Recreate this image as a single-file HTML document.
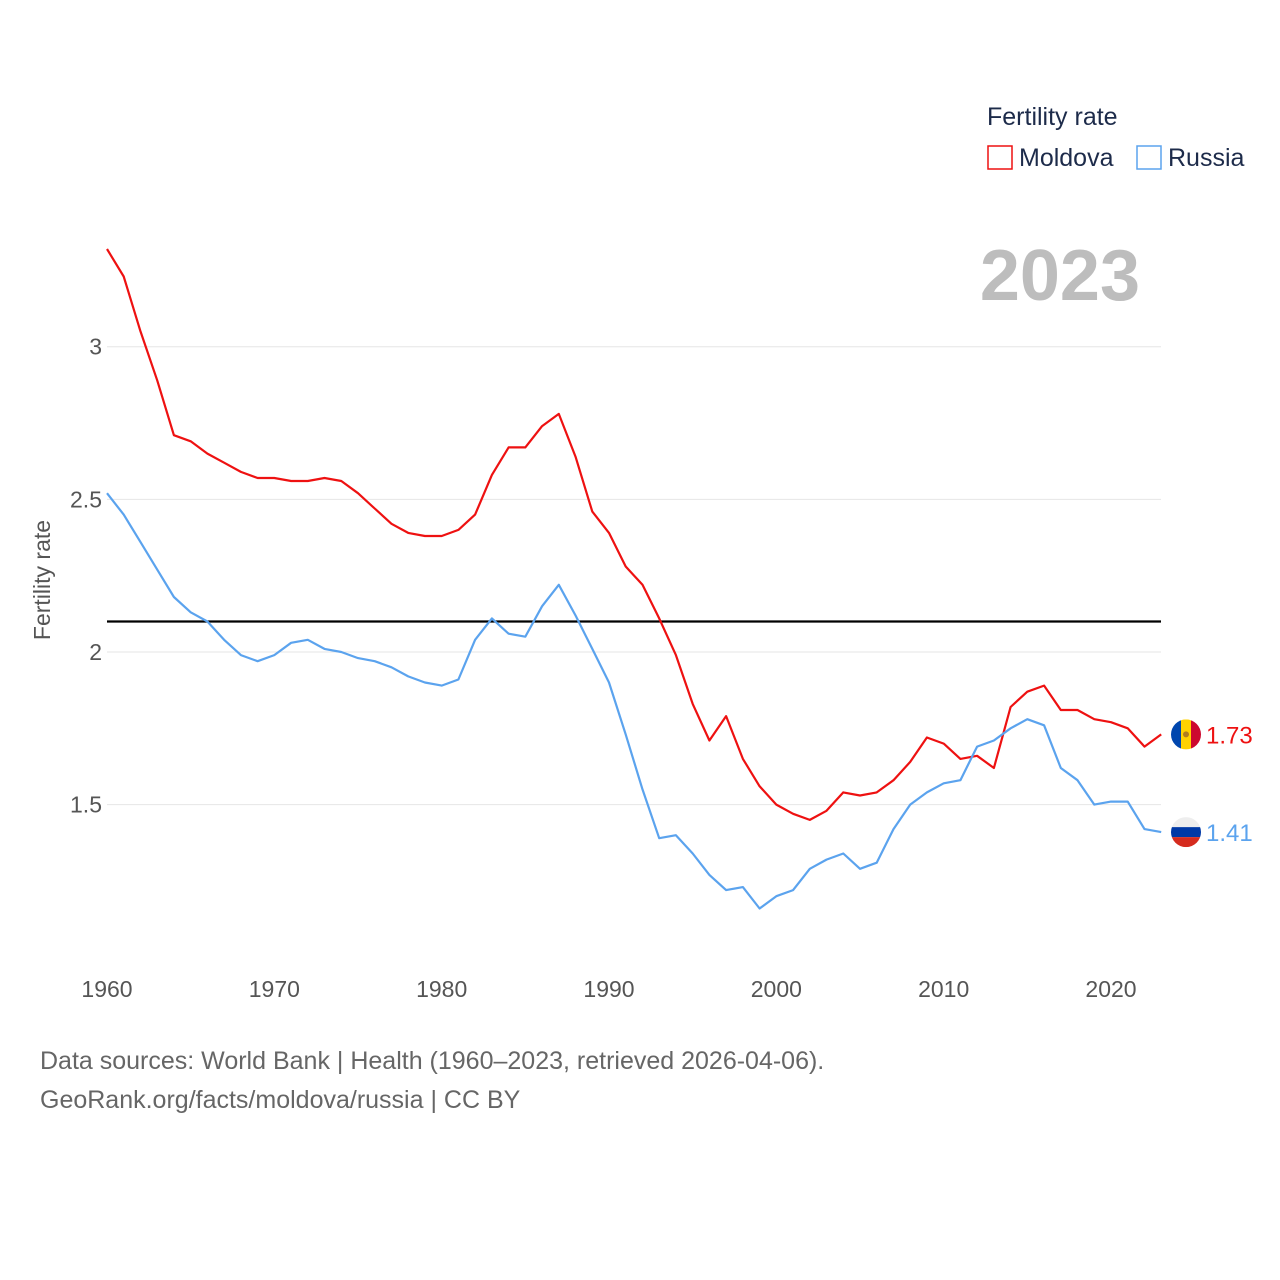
<!DOCTYPE html>
<html><head><meta charset="utf-8">
<style>
html,body{margin:0;padding:0;background:#fff;}
svg{display:block;font-family:"Liberation Sans",sans-serif;}
</style></head>
<body>
<svg id="chart" width="1280" height="1280" viewBox="0 0 1280 1280" xmlns="http://www.w3.org/2000/svg">
  <text x="987" y="125" font-size="25" fill="#1d2b4a">Fertility rate</text>
  <g>
    <rect x="988" y="146" width="24" height="23" fill="none" stroke="#ee1111" stroke-width="1.5"/>
    <text x="1019" y="166" font-size="25" fill="#1d2b4a">Moldova</text>
  </g>
  <g>
    <rect x="1137" y="146" width="24" height="23" fill="none" stroke="#5ba3ee" stroke-width="1.5"/>
    <text x="1168" y="166" font-size="25" fill="#1d2b4a">Russia</text>
  </g>
  <text x="1140" y="300" font-size="72" font-weight="bold" fill="#bdbdbd" text-anchor="end">2023</text>
  <text transform="translate(50,580) rotate(-90)" font-size="23" fill="#555" text-anchor="middle">Fertility rate</text>
  <g id="grid"></g>
  <g id="xt"></g>
  <g id="lines"></g>
  <text x="40" y="1069" font-size="25" fill="#666">Data sources: World Bank | Health (1960–2023, retrieved 2026-04-06).</text>
  <text x="40" y="1108" font-size="25" fill="#666">GeoRank.org/facts/moldova/russia | CC BY</text>
</svg>
<script>
const years = [];
for (let y = 1960; y <= 2023; y++) years.push(y);
const moldova = [3.32,3.23,3.05,2.89,2.71,2.69,2.65,2.62,2.59,2.57,2.57,2.56,2.56,2.57,2.56,2.52,2.47,2.42,2.39,2.38,2.38,2.40,2.45,2.58,2.67,2.67,2.74,2.78,2.64,2.46,2.39,2.28,2.22,2.11,1.99,1.83,1.71,1.79,1.65,1.56,1.50,1.47,1.45,1.48,1.54,1.53,1.54,1.58,1.64,1.72,1.70,1.65,1.66,1.62,1.82,1.87,1.89,1.81,1.81,1.78,1.77,1.75,1.69,1.73];
const russia = [2.52,2.45,2.36,2.27,2.18,2.13,2.10,2.04,1.99,1.97,1.99,2.03,2.04,2.01,2.00,1.98,1.97,1.95,1.92,1.90,1.89,1.91,2.04,2.11,2.06,2.05,2.15,2.22,2.12,2.01,1.90,1.73,1.55,1.39,1.40,1.34,1.27,1.22,1.23,1.16,1.20,1.22,1.29,1.32,1.34,1.29,1.31,1.42,1.50,1.54,1.57,1.58,1.69,1.71,1.75,1.78,1.76,1.62,1.58,1.50,1.51,1.51,1.42,1.41];
const yTicks = [1.5, 2, 2.5, 3];
const yTickLabels = ["1.5", "2", "2.5", "3"];
const xTicks = [1960, 1970, 1980, 1990, 2000, 2010, 2020];
const refValue = [2.1];

const NS = "http://www.w3.org/2000/svg";
const X = yr => 107 + (yr - 1960) * (1004 / 60);
const Y = v => 652 - (v - 2) * 305.3;
function mk(tag, attrs, parent){ const e=document.createElementNS(NS,tag); for(const k in attrs) e.setAttribute(k,attrs[k]); parent.appendChild(e); return e; }

const grid = document.getElementById('grid');
yTicks.forEach((v,i)=>{
  const l = mk('line',{x1:107,x2:1161,y1:Y(v),y2:Y(v),stroke:'#e6e6e6','stroke-width':1},grid);
  
  
  const t = mk('text',{x:102,y:Y(v)+8,'font-size':23,fill:'#555','text-anchor':'end'},grid);
  t.textContent = yTickLabels[i];
  
  
});
const xt = document.getElementById('xt');
xTicks.forEach(yr=>{
  const t = mk('text',{x:X(yr),y:997,'font-size':23,fill:'#555','text-anchor':'middle'},xt);
  t.textContent = yr;
  
  
});
const lines = document.getElementById('lines');
const ref = mk('line',{x1:107,x2:1161,y1:Y(refValue[0]),y2:Y(refValue[0]),stroke:'#000','stroke-width':2.2},lines);



function series(vals,color,name){
  const d = vals.map((v,i)=>(i?'L':'M')+X(years[i]).toFixed(1)+','+Y(v).toFixed(1)).join(' ');
  const p = mk('path',{d:d,fill:'none',stroke:color,'stroke-width':2.2,'stroke-linejoin':'round'},lines);
  
  
  const last = vals[vals.length-1];
  const ly = Y(last);
  const lab = mk('text',{x:1206,y:ly+9,'font-size':24,fill:color},lines);
  lab.textContent = last.toFixed(2);
  
  
  return ly;
}
const my = series(moldova,'#ee1111','moldova');
const ry = series(russia,'#5ba3ee','russia');

// flags
const fm = mk('g',{},lines);


mk('clipPath',{id:'cm'},fm).appendChild(document.createElementNS(NS,'circle')).setAttribute('r','15');
document.querySelector('#cm circle').setAttribute('cx','1186');
document.querySelector('#cm circle').setAttribute('cy',my);
const gm = mk('g',{'clip-path':'url(#cm)'},fm);
mk('rect',{x:1171,y:my-15,width:10,height:30,fill:'#0046ae'},gm);
mk('rect',{x:1181,y:my-15,width:10,height:30,fill:'#ffd200'},gm);
mk('rect',{x:1191,y:my-15,width:10,height:30,fill:'#cc092f'},gm);
mk('circle',{cx:1186,cy:my,r:3,fill:'#b07e1f'},gm);

const fr = mk('g',{},lines);


const cr = mk('clipPath',{id:'cr'},fr);
mk('circle',{cx:1186,cy:ry,r:15},cr);
const gr = mk('g',{'clip-path':'url(#cr)'},fr);
mk('rect',{x:1171,y:ry-15,width:30,height:10,fill:'#eeeeee'},gr);
mk('rect',{x:1171,y:ry-5,width:30,height:10,fill:'#0039a6'},gr);
mk('rect',{x:1171,y:ry+5,width:30,height:10,fill:'#d52b1e'},gr);
</script>
</body></html>
